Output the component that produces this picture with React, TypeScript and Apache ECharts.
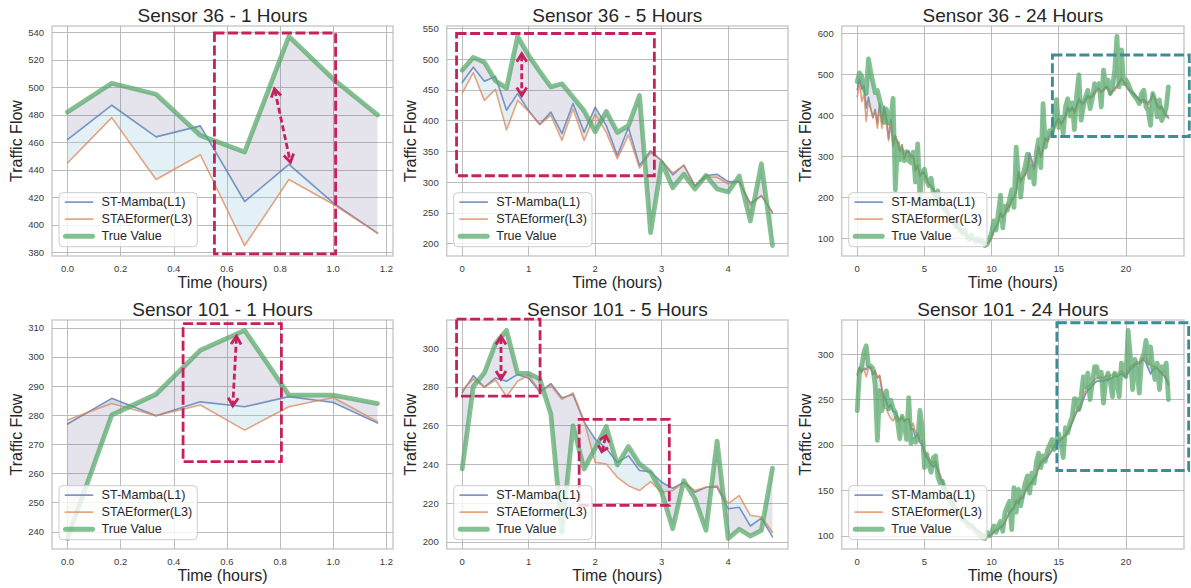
import React, { useEffect, useRef } from 'react';
import * as echarts from 'echarts';

// ---------- data (traffic flow, sampled every 10 minutes) ----------
const STEP_HOURS = 1 / 6;

const S36_TRUE = [
  482, 503, 495, 465, 453, 537, 506, 480, 455, 460, 438, 416, 382, 415, 381, 392, 441, 218, 332, 291,
  313, 289, 311, 289, 284, 310, 237, 330, 197,
  262, 268, 240, 228, 246, 210, 200, 215, 185, 178,
  168, 170, 150, 148, 140, 128, 135, 118, 112, 120,
  104, 96, 108, 98, 92, 99, 90, 95, 82, 85,
  98, 112, 142, 120, 160, 205, 125, 178, 168, 195,
  218, 175, 322, 248, 200, 255, 275, 305, 248, 275,
  232, 310, 340, 272, 428, 322, 355, 362, 352, 390,
  438, 370, 395, 355, 420, 440, 398, 430, 365, 450,
  498, 388, 420, 445, 461, 416, 440, 477, 470, 477,
  420, 510, 469, 486, 453, 470, 510, 592, 469, 559,
  477, 486, 477, 462, 453, 445, 438, 428, 453, 461,
  420, 410, 375, 453, 437, 396, 437, 387, 400, 420,
  469,
];
const S36_MAMBA = [
  462, 487, 464, 472, 417, 444, 416, 394, 414, 379, 428, 381, 422, 392, 343, 389, 327, 351, 335, 312,
  328, 294, 311, 313, 301, 301, 266, 278, 251,
  262, 258, 245, 232, 228, 220, 210, 198, 192, 180,
  172, 165, 158, 150, 144, 136, 128, 122, 116, 110,
  106, 102, 99, 97, 95, 93, 92, 90, 90, 88,
  92, 102, 118, 128, 140, 162, 152, 160, 172, 178,
  195, 200, 215, 262, 240, 250, 255, 270, 308, 290,
  270, 298, 325, 300, 318, 345, 338, 348, 362, 370,
  385, 392, 380, 388, 400, 418, 412, 420, 410, 425,
  440, 432, 430, 440, 448, 444, 448, 456, 462, 466,
  458, 462, 470, 466, 452, 460, 465, 472, 480, 490,
  482, 472, 465, 460, 455, 450, 445, 438, 435, 438,
  432, 430, 440, 452, 440, 425, 418, 422, 410, 400,
  395,
];
const S36_STAE = [
  445, 478, 433, 451, 385, 433, 415, 394, 409, 368, 419, 368, 411, 381, 338, 377, 323, 348, 335, 315,
  327, 294, 308, 308, 297, 301, 262, 278, 251,
  258, 255, 242, 230, 226, 218, 207, 196, 188, 178,
  170, 162, 156, 148, 141, 134, 126, 120, 114, 109,
  104, 100, 98, 96, 94, 92, 91, 89, 88, 87,
  91, 100, 115, 125, 138, 158, 150, 162, 185, 175,
  190, 198, 210, 255, 236, 248, 252, 265, 298, 282,
  268, 288, 318, 296, 315, 340, 335, 345, 360, 365,
  380, 386, 375, 384, 396, 412, 408, 415, 405, 418,
  435, 428, 426, 436, 442, 440, 444, 450, 458, 462,
  455, 460, 465, 462, 448, 456, 460, 468, 476, 488,
  480, 470, 462, 458, 452, 446, 440, 435, 430, 434,
  428, 425, 436, 446, 436, 420, 414, 418, 405, 396,
  392,
];
const S101_TRUE = [
  237.7, 280.1, 287.2, 302.3, 309.1, 286.9, 286.9, 284, 265.8, 205, 259.8, 237.6, 248.2, 259.5, 239.7,
  249.2, 240.2, 236, 225.6, 206.8, 231.6, 222.2, 206, 252, 201.7, 206.5, 203, 206, 238,
  220, 175, 190, 178, 170, 186, 188, 165, 158, 160,
  150, 145, 140, 136, 132, 128, 126, 122, 118, 116,
  114, 110, 112, 108, 105, 103, 100, 98, 97, 104,
  100, 103, 111, 104, 111, 116, 105, 126, 132, 138,
  107, 153, 126, 151, 133, 146, 158, 166, 147, 169,
  158, 181, 191, 175, 188, 182, 195, 200, 206, 195,
  206, 212, 200, 186, 219, 213, 224, 231, 251, 250,
  239, 254, 275, 264, 279, 250, 268, 286, 286, 275,
  280, 246, 272, 279, 270, 253, 279, 270, 253, 290,
  279, 275, 326, 297, 261, 294, 280, 257, 294, 300,
  315, 290, 308, 286, 272, 290, 261, 286, 282, 290,
  250,
];
const S101_MAMBA = [
  277, 285.8, 279.8, 284.6, 282.9, 286.4, 284.4, 277.3, 281.7, 274.4, 276, 261.9, 253, 248.2, 241,
  244.4, 236.8, 236.2, 230.8, 227.7, 230.8, 225.6, 228.2, 228.2, 217.1, 217.9, 208.2, 212.3, 202.6,
  200, 190, 186, 182, 178, 176, 178, 172, 165, 158,
  153, 149, 145, 140, 136, 131, 128, 124, 121, 118,
  115, 113, 111, 110, 108, 106, 104, 102, 101, 100,
  101, 102, 104, 106, 107, 109, 111, 115, 120, 125,
  128, 130, 138, 135, 142, 141, 148, 152, 156, 158,
  163, 166, 174, 180, 182, 184, 186, 190, 194, 198,
  200, 203, 206, 208, 210, 214, 218, 224, 230, 236,
  238, 242, 250, 256, 260, 262, 265, 268, 270, 270,
  271, 270, 272, 271, 273, 274, 276, 275, 277, 278,
  276, 275, 279, 283, 285, 288, 290, 289, 292, 294,
  290, 284, 278, 282, 285, 284, 281, 278, 276, 272,
  266,
];
const S101_STAE = [
  278.4, 284, 279.8, 283.5, 274.9, 282.9, 286.1, 277.8, 280.7, 273.5, 276.9, 262.4, 241, 240.2, 233.3,
  229, 226.5, 231.1, 225.6, 226.5, 230.8, 226.5, 228.2, 229, 219.7, 223.9, 213.7, 212.8, 205.1,
  205, 194, 190, 185, 182, 180, 182, 175, 168, 161,
  156, 151, 146, 141, 137, 132, 129, 125, 122, 119,
  116, 114, 112, 110, 108, 106, 104, 102, 101, 100,
  101, 102, 105, 107, 108, 110, 112, 116, 121, 126,
  130, 132, 140, 138, 144, 143, 150, 154, 158, 160,
  165, 168, 176, 182, 184, 186, 188, 192, 196, 200,
  202, 205, 207, 209, 212, 216, 220, 226, 233, 239,
  242, 246, 254, 260, 264, 266, 269, 272, 274, 274,
  275, 273, 276, 275, 277, 277, 279, 278, 280, 281,
  279, 278, 282, 286, 288, 290, 292, 291, 294, 296,
  295, 290, 288, 287, 286, 285, 282, 280, 278, 274,
  268,
];

const SERIES_NAMES = ['ST-Mamba(L1)', 'STAEformer(L3)', 'True Value'];
const HORIZON_POINTS = [8, 29, 140];
const HORIZON_LABELS = ['1 Hours', '5 Hours', '24 Hours'];

const X_TICKS_1H = [0, 0.2, 0.4, 0.6, 0.8, 1.0, 1.2];
const X_TICKS_5H = [0, 1, 2, 3, 4];
const X_TICKS_24H = [0, 5, 10, 15, 20];
const Y_TICKS_S36_1H = [380, 400, 420, 440, 460, 480, 500, 520, 540];
const Y_TICKS_S36_5H = [200, 250, 300, 350, 400, 450, 500, 550];
const Y_TICKS_S36_24H = [100, 200, 300, 400, 500, 600];
const Y_TICKS_S101_1H = [240, 250, 260, 270, 280, 290, 300, 310];
const Y_TICKS_S101_5H = [200, 220, 240, 260, 280, 300];
const Y_TICKS_S101_24H = [100, 150, 200, 250, 300];

// highlight boxes [x1, y1, x2, y2] and arrows [xFrom, yFrom, xTo, yTo] in data units
const BOX_S36_1H = [[0.553, 379, 1.009, 539.5]];
const ARROW_S36_1H = [[0.779, 499, 0.839, 445.5]];
const BOX_S36_5H = [[-0.085, 310.5, 2.89, 541.8]];
const ARROW_S36_5H = [[0.895, 509, 0.895, 441]];
const BOX_S36_24H = [[14.53, 348, 24.72, 546.8]];
const BOX_S101_1H = [[0.435, 264.1, 0.805, 311.4]];
const ARROW_S101_1H = [[0.636, 307.1, 0.622, 283.2]];
const BOX_S101_5H = [[-0.085, 275.2, 1.171, 314.9], [1.759, 218.8, 3.115, 263.2]];
const ARROW_S101_5H = [[0.583, 306, 0.583, 284], [2.16, 254.7, 2.1, 246.5]];
const BOX_S101_24H = [[14.86, 171.9, 24.67, 334.4]];

// ---------- styling / layout ----------
const C_MAMBA = '#4c72b0';
const C_STAE = '#dd8452';
const C_TRUE = '#55a868';
const C_FILL_TRUE = 'rgba(118,108,150,0.19)';
const C_FILL_PRED = 'rgba(150,198,222,0.27)';
const C_CRIMSON = '#c7215d';
const C_TEAL = '#3a8e97';
const FONT = '"Liberation Sans", Arial, Helvetica, sans-serif';

const GRID_LEFTS = [52, 446.7, 841.7];
const GRID_WIDTHS = [341, 341.3, 342.3];
const GRID_TOPS = [26, 320];
const GRID_HEIGHTS = [230, 229];

const SENSORS = [
  { id: '36', truth: S36_TRUE, mamba: S36_MAMBA, stae: S36_STAE,
    yTicks: [Y_TICKS_S36_1H, Y_TICKS_S36_5H, Y_TICKS_S36_24H],
    boxes: [BOX_S36_1H, BOX_S36_5H, BOX_S36_24H], arrows: [ARROW_S36_1H, ARROW_S36_5H, []] },
  { id: '101', truth: S101_TRUE, mamba: S101_MAMBA, stae: S101_STAE,
    yTicks: [Y_TICKS_S101_1H, Y_TICKS_S101_5H, Y_TICKS_S101_24H],
    boxes: [BOX_S101_1H, BOX_S101_5H, BOX_S101_24H], arrows: [ARROW_S101_1H, ARROW_S101_5H, []] },
];
const X_TICKS = [X_TICKS_1H, X_TICKS_5H, X_TICKS_24H];

function buildOption() {
  const grids: any[] = [];
  const xAxes: any[] = [];
  const yAxes: any[] = [];
  const series: any[] = [];
  const legends: any[] = [];
  const graphics: any[] = [];

  SENSORS.forEach((s, row) => {
    HORIZON_POINTS.forEach((n, col) => {
      const p = row * 3 + col;
      const xs = Array.from({ length: n }, (_, i) => i * STEP_HOURS);
      const t = s.truth.slice(0, n);
      const m = s.mamba.slice(0, n);
      const a = s.stae.slice(0, n);
      const all = [...t, ...m, ...a];
      const yMin = Math.min(...all);
      const yMax = Math.max(...all);
      const yPad = (yMax - yMin) * 0.05;
      const xMax = xs[n - 1];
      const xPad = xMax * 0.05;
      const left = GRID_LEFTS[col];
      const width = GRID_WIDTHS[col];
      const top = GRID_TOPS[row];
      const height = GRID_HEIGHTS[row];

      grids.push({
        left, top, width, height, containLabel: false, show: true,
        borderColor: '#cccccc', borderWidth: 1.5, backgroundColor: 'transparent',
      });
      xAxes.push({
        type: 'value', gridIndex: p, min: -xPad, max: xMax + xPad,
        axisLine: { show: false },
        axisTick: { show: false, customValues: X_TICKS[col] },
        axisLabel: {
          customValues: X_TICKS[col], margin: 7, color: '#3a3a3a', fontSize: 9.5, fontFamily: FONT,
          formatter: (v: number) => (col === 0 ? v.toFixed(1) : String(Math.round(v))),
        },
        splitLine: { show: true, lineStyle: { color: '#b4b4b4', width: 0.9 } },
        name: 'Time (hours)', nameLocation: 'middle', nameGap: 18,
        nameTextStyle: { fontSize: 16, color: '#262626', fontFamily: FONT },
      });
      yAxes.push({
        type: 'value', gridIndex: p, min: yMin - yPad, max: yMax + yPad,
        axisLine: { show: false },
        axisTick: { show: false, customValues: s.yTicks[col] },
        axisLabel: {
          customValues: s.yTicks[col], margin: 8, color: '#3a3a3a', fontSize: 9.5, fontFamily: FONT,
          formatter: (v: number) => String(Math.round(v)),
        },
        splitLine: { show: true, lineStyle: { color: '#b4b4b4', width: 0.9 } },
        name: 'Traffic Flow', nameLocation: 'middle', nameGap: 27,
        nameTextStyle: { fontSize: 16, color: '#262626', fontFamily: FONT },
      });

      const makeFill = (up: number[], low: number[], color: string) => ({
        type: 'custom', xAxisIndex: p, yAxisIndex: p, z: 1, silent: true,
        data: xs.map((x, i) => [x, up[i], low[i]]),
        encode: { x: 0, y: [1, 2] },
        renderItem: (params: any, api: any) => {
          if (params.dataIndex !== 0) return null;
          const pts: number[][] = [];
          for (let i = 0; i < xs.length; i++) pts.push(api.coord([xs[i], up[i]]));
          for (let i = xs.length - 1; i >= 0; i--) pts.push(api.coord([xs[i], low[i]]));
          return { type: 'polygon', shape: { points: pts }, style: { fill: color, stroke: 'none' } };
        },
      });
      series.push(makeFill(t, m, C_FILL_TRUE));
      series.push(makeFill(m, a, C_FILL_PRED));

      const makeLine = (name: string, vals: number[], color: string, w: number, op: number, z: number) => ({
        type: 'line', name, xAxisIndex: p, yAxisIndex: p, z,
        data: xs.map((x, i) => [x, vals[i]]),
        symbol: 'none', showSymbol: false, smooth: false, silent: true,
        lineStyle: { color, width: w, opacity: op, join: 'round', cap: 'round' },
        itemStyle: { color },
        emphasis: { disabled: true },
      });
      series.push(makeLine(SERIES_NAMES[0], m, C_MAMBA, 1.6, 0.72, 3));
      series.push(makeLine(SERIES_NAMES[1], a, C_STAE, 1.6, 0.72, 3));
      series.push(makeLine(SERIES_NAMES[2], t, C_TRUE, 4.8, 0.72, 4));

      const boxColor = col === 2 ? C_TEAL : C_CRIMSON;
      series.push({
        type: 'custom', xAxisIndex: p, yAxisIndex: p, z: 6, silent: true, clip: false,
        data: s.boxes[col],
        encode: { x: [0, 2], y: [1, 3] },
        renderItem: (params: any, api: any) => {
          const p1 = api.coord([api.value(0), api.value(3)]);
          const p2 = api.coord([api.value(2), api.value(1)]);
          return {
            type: 'rect',
            shape: { x: p1[0], y: p1[1], width: p2[0] - p1[0], height: p2[1] - p1[1] },
            style: { fill: 'none', stroke: boxColor, lineWidth: 2.8, lineDash: [10, 3.5] },
          };
        },
      });
      if (s.arrows[col].length) {
        series.push({
          type: 'custom', xAxisIndex: p, yAxisIndex: p, z: 7, silent: true, clip: false,
          data: s.arrows[col],
          encode: { x: [0, 2], y: [1, 3] },
          renderItem: (params: any, api: any) => {
            const a1 = api.coord([api.value(0), api.value(1)]);
            const a2 = api.coord([api.value(2), api.value(3)]);
            const dx = a2[0] - a1[0];
            const dy = a2[1] - a1[1];
            const len = Math.sqrt(dx * dx + dy * dy) || 1;
            const ux = dx / len, uy = dy / len;
            const nx = -uy, ny = ux;
            const L = Math.min(8, len / 3), W = 5;
            const head = (tip: number[], sx: number, sy: number) => [
              [tip[0] - sx * L + nx * W, tip[1] - sy * L + ny * W],
              tip,
              [tip[0] - sx * L - nx * W, tip[1] - sy * L - ny * W],
            ];
            const st = { stroke: C_CRIMSON, lineWidth: 2.8, fill: 'none' };
            return {
              type: 'group',
              children: [
                { type: 'line', shape: { x1: a1[0] + ux * 1.5, y1: a1[1] + uy * 1.5, x2: a2[0] - ux * 1.5, y2: a2[1] - uy * 1.5 },
                  style: { ...st, lineDash: [6, 3] } },
                { type: 'polyline', shape: { points: head(a2, ux, uy) }, style: { ...st, lineJoin: 'miter' } },
                { type: 'polyline', shape: { points: head(a1, -ux, -uy) }, style: { ...st, lineJoin: 'miter' } },
              ],
            };
          },
        });
      }

      legends.push({
        orient: 'vertical', left: left + 7, top: top + height - 63.3, z: 20,
        itemWidth: 27, itemHeight: 14, itemGap: 4, selectedMode: false,
        backgroundColor: 'rgba(255,255,255,0.8)', borderColor: '#cccccc', borderWidth: 1,
        borderRadius: 4, padding: [3, 5, 4, 4],
        textStyle: { fontSize: 12.6, color: '#262626', fontFamily: FONT, padding: [0, 0, 0, 4] },
        itemStyle: { color: 'transparent', borderWidth: 0, opacity: 0 },
        data: [
          { name: SERIES_NAMES[0], lineStyle: { width: 1.8 } },
          { name: SERIES_NAMES[1], lineStyle: { width: 1.8 } },
          { name: SERIES_NAMES[2], lineStyle: { width: 5 } },
        ],
      });

      graphics.push({
        type: 'text', x: left + width / 2, y: top - 11, silent: true,
        style: {
          text: `Sensor ${s.id} - ${HORIZON_LABELS[col]}`, fill: '#262626',
          font: `19px ${FONT}`, textAlign: 'center', textVerticalAlign: 'middle',
        },
      });
    });
  });

  return {
    animation: false,
    backgroundColor: '#ffffff',
    grid: grids,
    xAxis: xAxes,
    yAxis: yAxes,
    legend: legends,
    series,
    graphic: graphics,
  };
}

export default function App() {
  const ref = useRef<HTMLDivElement>(null);
  useEffect(() => {
    if (!ref.current) return;
    const chart = echarts.init(ref.current, undefined, { renderer: 'svg' });
    chart.setOption(buildOption() as any);
    return () => chart.dispose();
  }, []);
  return (
    <div
      ref={ref}
      style={{ position: 'fixed', left: 0, top: 0, width: 1191, height: 588, background: '#fff' }}
    />
  );
}
